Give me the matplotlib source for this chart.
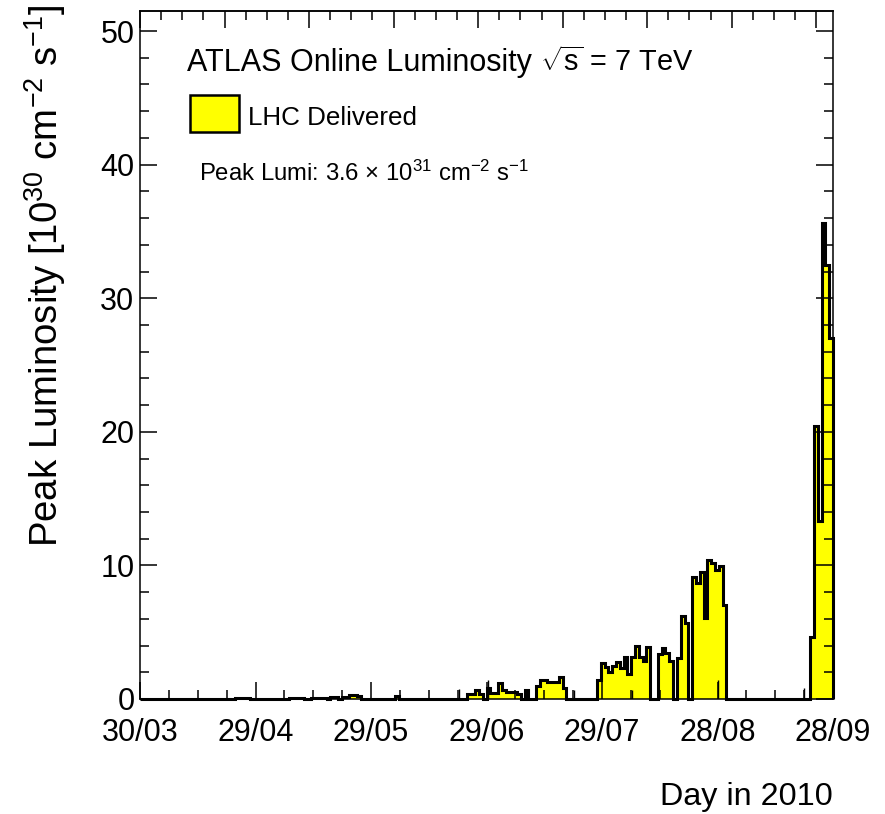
import numpy as np
import matplotlib
matplotlib.use("Agg")
import matplotlib.pyplot as plt
from matplotlib.patches import Rectangle
from matplotlib.ticker import FixedLocator, MultipleLocator

# daily peak luminosity [1e30 cm^-2 s^-1], days counted from 30/03/2010
n_days = 182
lumi_days = [25, 26, 27, 28, 39, 40, 41, 42, 45, 46, 47, 48, 50, 51, 53, 54, 55, 56, 57, 67,
             86, 87, 88, 89, 91, 92, 93, 94, 95, 96, 97, 98, 99, 101,
             104, 105, 106, 107, 108, 109, 110, 111,
             120, 121, 122, 123, 124, 125, 126, 127, 128, 129, 130, 131, 132, 133,
             136, 137, 138, 139, 141, 142, 143,
             145, 146, 147, 148, 149, 150, 151, 152, 153,
             176, 177, 178, 179, 180, 181]
lumi_values = [0.08, 0.08, 0.08, 0.08, 0.08, 0.08, 0.08, 0.08, 0.1, 0.1, 0.1, 0.1, 0.15, 0.15,
               0.12, 0.12, 0.3, 0.3, 0.25, 0.25,
               0.35, 0.35, 0.67, 0.35, 0.85, 0.47, 0.47, 1.2, 0.7, 0.5, 0.5, 0.5, 0.35, 0.67,
               1.0, 1.45, 1.45, 1.3, 1.3, 1.3, 1.65, 0.8,
               1.42, 2.67, 2.42, 2.0, 2.47, 2.8, 2.35, 3.12, 1.85, 3.12, 3.97, 3.12, 2.84, 3.87,
               3.37, 3.84, 3.47, 2.87, 3.05, 6.2, 5.71,
               9.15, 8.7, 9.48, 6.1, 10.4, 10.15, 9.65, 9.95, 7.05,
               4.66, 20.4, 13.3, 35.6, 32.5, 27.0]

# short single-run entries drawn as thin lines
spike_days = [83.8, 91.4, 114.0, 129.1, 151.7, 174.4]
spike_values = [0.75, 1.4, 0.7, 0.7, 1.4, 0.8]

date_labels = ["30/03", "29/04", "29/05", "29/06", "29/07", "28/08", "28/09"]

plt.rcParams["font.family"] = ["Liberation Sans", "DejaVu Sans"]
plt.rcParams["mathtext.fontset"] = "custom"
plt.rcParams["mathtext.rm"] = "Liberation Sans"
plt.rcParams["mathtext.it"] = "Liberation Sans:italic"

W, H = 885, 814
fig = plt.figure(figsize=(W / 100, H / 100), dpi=100)
ax = fig.add_axes([140 / W, 1 - 699 / H, (833 - 140) / W, (699 - 11) / H])

values = np.zeros(n_days)
values[lumi_days] = lumi_values
edges = np.arange(n_days + 1)

ax.stairs(values, edges, fill=True, color="#ffff00", linewidth=0)
ax.stairs(values, edges, color="black", linewidth=2.2, baseline=0, clip_on=False)
ax.vlines(spike_days, 0, spike_values, color="black", linewidth=1.0)

ax.set_xlim(0, n_days)
ax.set_ylim(0, 51.5)

major_x = np.arange(len(date_labels)) * n_days / 6
ax.xaxis.set_major_locator(FixedLocator(major_x))
ax.xaxis.set_minor_locator(FixedLocator(np.arange(25) * n_days / 24))
ax.set_xticklabels(date_labels)
ax.yaxis.set_major_locator(MultipleLocator(10))
ax.yaxis.set_minor_locator(MultipleLocator(2))

ax.tick_params(which="both", direction="in", right=True, top=False, width=1.1)
ax.tick_params(which="major", length=12.5, labelsize=22)
ax.tick_params(which="minor", length=6.5)
ax.tick_params(axis="x", pad=14)
ax.tick_params(axis="y", pad=4)
for sp in ax.spines.values():
    sp.set_linewidth(1.1)

top = ax.secondary_xaxis("top")
top.xaxis.set_major_locator(MultipleLocator(22.2))
top.xaxis.set_minor_locator(MultipleLocator(5.55))
top.tick_params(which="both", direction="in", labeltop=False, width=1.1)
top.tick_params(which="major", length=12.5)
top.tick_params(which="minor", length=6.5)
top.spines["top"].set_linewidth(1.1)


def fx(x):
    return x / W


def fy(y):
    return 1 - y / H


fig.text(fx(45), fy(276), r"Peak Luminosity [10$^{30}$ cm$^{-2}$ s$^{-1}$]",
         rotation=90, ha="center", va="center", fontsize=27.6)
fig.text(fx(833), fy(805), "Day in 2010", ha="right", va="baseline", fontsize=23.3)

fig.text(fx(187), fy(71), "ATLAS Online Luminosity", ha="left", va="baseline", fontsize=22)
fig.text(fx(540), fy(71), r"$\sqrt{\mathrm{s}}$ = 7 TeV", ha="left", va="baseline", fontsize=20.8)
fig.patches.append(Rectangle((fx(190), fy(132)), 49 / W, 37 / H, transform=fig.transFigure,
                             facecolor="#ffff00", edgecolor="black", linewidth=1.8))
fig.text(fx(248), fy(125), "LHC Delivered", ha="left", va="baseline", fontsize=18.7)
fig.text(fx(199), fy(181), r"Peak Lumi: 3.6 $\times$ 10$^{31}$ cm$^{-2}$ s$^{-1}$",
         ha="left", va="baseline", fontsize=17.2)

fig.savefig("out.png", dpi=100)
